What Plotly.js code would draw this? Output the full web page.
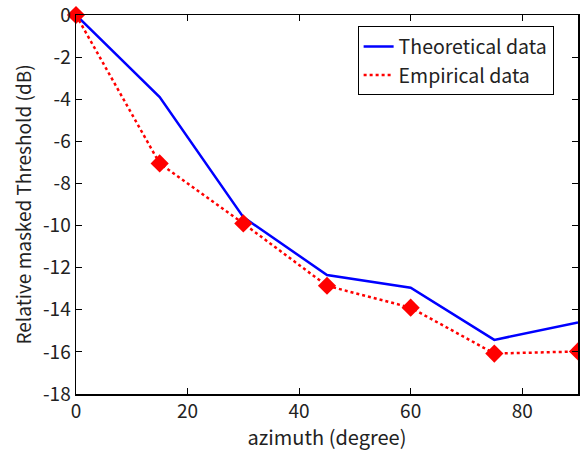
<!DOCTYPE html>
<html><head><meta charset="utf-8">
<script src="https://cdn.plot.ly/plotly-3.0.1.min.js"></script>
<style>html,body{margin:0;padding:0;background:#fff}#c{width:580px;height:451px}</style>
</head><body><div id="c"></div>
<script>
const azimuth = [0, 15, 30, 45, 60, 75, 90];
const theoretical = [0, -3.9, -9.6, -12.35, -12.95, -15.43, -14.6];
const empirical = [0, -7.05, -9.9, -12.86, -13.9, -16.08, -15.98];
const yTicks = [0, -2, -4, -6, -8, -10, -12, -14, -16, -18];
const yTickText = ['0', '-2', '-4', '-6', '-8', '-10', '-12', '-14', '-16', '-18'];
const xTicks = [0, 20, 40, 60, 80];
const font = 'Noto Sans CJK JP, Noto Sans, sans-serif';
const traces = [
  {x: azimuth, y: theoretical, name: 'Theoretical data', mode: 'lines',
   line: {color: '#0000ff', width: 2.5}},
  {x: azimuth, y: empirical, name: 'Empirical data', mode: 'lines',
   line: {color: '#ff0000', width: 2.5, dash: 'dot'}},
  {x: azimuth, y: empirical, name: 'Empirical data', mode: 'markers', showlegend: false,
   marker: {symbol: 'diamond', size: 14, color: '#ff0000'}, cliponaxis: false}
];
const axBase = {showgrid: false, zeroline: false, showline: true, mirror: 'ticks',
  linecolor: '#000', linewidth: 1.5, ticks: 'inside', ticklen: 6, tickcolor: '#000',
  ticklabeloverflow: 'allow',
  tickfont: {family: font, size: 19, color: '#222'}};
const layout = {
  width: 580, height: 451,
  margin: {l: 76, r: 2, t: 15, b: 57},
  paper_bgcolor: '#fff', plot_bgcolor: '#fff',
  font: {family: font, color: '#222'},
  xaxis: Object.assign({}, axBase, {range: [0, 90], tickvals: xTicks,
    title: {text: 'azimuth (degree)', font: {family: font, size: 20}, standoff: 3}}),
  yaxis: Object.assign({}, axBase, {range: [-18, 0], tickvals: yTicks, ticktext: yTickText,
    title: {text: 'Relative masked Threshold (dB)', font: {family: font, size: 19}, standoff: 6}}),
  legend: {x: 0.561, y: 0.97, xanchor: 'left', yanchor: 'top', bgcolor: '#fff',
    bordercolor: '#000', borderwidth: 1, font: {family: font, size: 19.5, color: '#222'},
    tracegroupgap: 0, itemwidth: 30},
  showlegend: true
};
Plotly.newPlot('c', traces, layout, {displayModeBar: false, staticPlot: true});
</script></body></html>
